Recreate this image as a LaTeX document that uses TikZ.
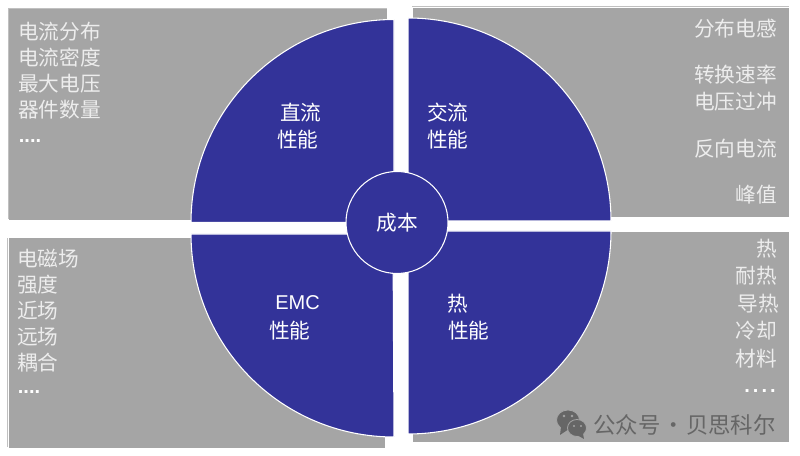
\documentclass[tikz,border=0pt]{standalone}
\usepackage{fontspec}
\setmainfont{Noto Sans CJK SC}
\newfontfamily\latinfont{Liberation Sans}
\definecolor{panelgray}{HTML}{A5A5A5}
\definecolor{quadblue}{HTML}{333399}
\definecolor{markgray}{HTML}{666666}
\tikzset{
	panel/.style={fill=panelgray,draw=none},
	edgeline/.style={draw=panelgray!70!white,line width=0.9},
	quadrant/.style={fill=quadblue,draw=white,line width=0.8},
	item/.style={text=white!93!black,font=\fontsize{15.5}{15.5}\selectfont,inner sep=0pt,yshift=-0.75pt},
	leftitem/.style={item,anchor=west},
	rightitem/.style={item,anchor=east},
	dots/.style={item,text=white,font=\latinfont\bfseries\fontsize{15}{15}\selectfont,anchor=base},
	title/.style={text=white,font=\fontsize{15.5}{15.5}\selectfont,inner sep=0pt},
	bubble/.style={fill=markgray,draw=panelgray,line width=0.6},
}
\begin{document}
\begin{tikzpicture}[x=0.75pt,y=0.75pt]
	\useasboundingbox (0,0) rectangle (800,456);
	\fill[white] (0,0) rectangle (800,456);
	% gray panels
	\fill[panel] (9,236) rectangle (387,447);
	\fill[panel] (413,239) rectangle (789,448);
	\fill[panel] (9,8) rectangle (385,218);
	\fill[panel] (413,14) rectangle (789,224);
	\draw[edgeline] (8.5,237) -- (8.5,447.5) -- (387,447.5);
	\draw[edgeline] (412,449.5) -- (789,449.5);
	\draw[edgeline] (7.5,9) -- (7.5,218);
	% four quadrants
	\draw[quadrant] (394,233.5) -- (191,233.5) arc[start angle=180,end angle=90,radius=203] -- cycle;
	\draw[quadrant] (408,235) -- (408,438) arc[start angle=90,end angle=0,radius=203] -- cycle;
	\draw[quadrant] (393,222) -- (191,222) arc[start angle=180,end angle=270,radius=203] -- cycle;
	\draw[quadrant] (408,225) -- (611,225) arc[start angle=0,end angle=-90,radius=203] -- cycle;
	\node[circle,fill=quadblue,draw=white,line width=0.8,minimum size=76.5pt,inner sep=0pt,title] (cost) at (397,233.5) {成本};
	% quadrant titles
	\node[title,anchor=west] (dc) at (280,343) {直流};
	\node[title,anchor=west] (dcperf) at (277,316) {性能};
	\node[title,anchor=west] (ac) at (427,343) {交流};
	\node[title,anchor=west] (acperf) at (427,316) {性能};
	\node[title,anchor=west,font=\latinfont\fontsize{15}{15}\selectfont] (emc) at (275,153) {EMC};
	\node[title,anchor=west] (emcperf) at (269,125) {性能};
	\node[title,anchor=west] (heat) at (447,152) {热};
	\node[title,anchor=west] (heatperf) at (448,125) {性能};
	% top left list
	\node[leftitem] (dcitema) at (18,425) {电流分布};
	\node[leftitem] (dcitemb) at (18,399) {电流密度};
	\node[leftitem] (dcitemc) at (18,373) {最大电压};
	\node[leftitem] (dcitemd) at (18,347) {器件数量};
	\node[dots] (dcdots) at (30,314) {....};
	% top right list
	\node[rightitem] (acitema) at (777,428) {分布电感};
	\node[rightitem] (acitemb) at (777,382) {转换速率};
	\node[rightitem] (acitemc) at (777,355) {电压过冲};
	\node[rightitem] (acitemd) at (777,308) {反向电流};
	\node[rightitem] (aciteme) at (777,262) {峰值};
	% bottom left list
	\node[leftitem] (emcitema) at (17,198) {电磁场};
	\node[leftitem] (emcitemb) at (17,172) {强度};
	\node[leftitem] (emcitemc) at (17,146) {近场};
	\node[leftitem] (emcitemd) at (17,120) {远场};
	\node[leftitem] (emciteme) at (17,94) {耦合};
	\node[dots] (emcdots) at (29,63) {....};
	% bottom right list
	\node[rightitem] (heatitema) at (777,208) {热};
	\node[rightitem] (heatitemb) at (777,181) {耐热};
	\node[rightitem] (heatitemc) at (779,153) {导热};
	\node[rightitem] (heatitemd) at (777,126) {冷却};
	\node[rightitem] (heatiteme) at (777,98) {材料};
	\node[dots,font=\latinfont\bfseries\fontsize{15}{15}\selectfont\addfontfeature{LetterSpace=15}] (heatdots) at (760,64) {....};
	% watermark
	\draw[bubble] (568,36) ellipse (11.5 and 10);
	\fill[markgray] (561,29) -- (560,21) -- (569,27) -- cycle;
	\draw[bubble] (577,28) ellipse (9.5 and 8.5);
	\fill[markgray] (583,22) -- (584,17) -- (577,21) -- cycle;
	\fill[panelgray] (564,40) circle (1.4) (572,40) circle (1.4) (574,30) circle (1.2) (581,30) circle (1.2);
	\node[item,anchor=east,text=markgray,font=\fontsize{16.8}{16.8}\selectfont] (mark) at (776,32) {\spaceskip=0.07em 公众号 · 贝思科尔};
\end{tikzpicture}
\end{document}
